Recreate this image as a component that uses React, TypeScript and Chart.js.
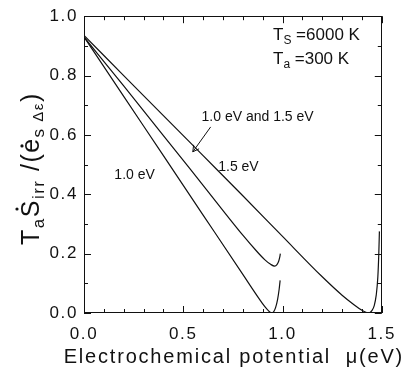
import React, { useEffect, useRef } from "react";
import { Chart, registerables } from "chart.js";

Chart.register(...registerables);

const FONT = '"Liberation Sans", Arial, Helvetica, sans-serif';
const INK = "#111111";

// Curve "1.0 eV"
const x10 = [0, 0.2, 0.4, 0.6, 0.8, 0.88, 0.91, 0.93, 0.945, 0.955, 0.965, 0.975, 0.983, 0.988];
const y10 = [0.93, 0.73, 0.53, 0.33, 0.13, 0.05, 0.022, 0.007, 0.0, 0.004, 0.018, 0.045, 0.08, 0.11];

// Curve "1.0 eV and 1.5 eV"
const xMid = [0, 0.2, 0.4, 0.6, 0.8, 0.87, 0.91, 0.94, 0.96, 0.972, 0.981, 0.986, 0.989];
const yMid = [0.93, 0.765, 0.598, 0.43, 0.262, 0.208, 0.18, 0.164, 0.158, 0.163, 0.175, 0.188, 0.2];

// Curve "1.5 eV"
const x15 = [0, 0.2, 0.4, 0.6, 0.8, 1.0, 1.2, 1.3, 1.36, 1.4, 1.42, 1.435, 1.45, 1.462, 1.472, 1.48, 1.485, 1.488];
const y15 = [0.935, 0.8, 0.665, 0.53, 0.395, 0.258, 0.122, 0.06, 0.028, 0.009, 0.002, 0.0, 0.008, 0.025, 0.06, 0.12, 0.2, 0.275];

const xMajorTicks = [0, 0.5, 1.0, 1.5];
const xMinorTicks = [0.1, 0.2, 0.3, 0.4, 0.6, 0.7, 0.8, 0.9, 1.1, 1.2, 1.3, 1.4];
const yMajorTicks = [0, 0.2, 0.4, 0.6, 0.8, 1.0];
const yMinorTicks = [0.1, 0.3, 0.5, 0.7, 0.9];

const xTitle = "Electrochemical potential  \u03BC(eV)";

const curveLabels = [
  { text: "1.0 eV and 1.5 eV", x: 0.592, y: 0.647 },
  { text: "1.5 eV", x: 0.676, y: 0.477 },
  { text: "1.0 eV", x: 0.153, y: 0.453 },
];
const arrowFrom = { x: 0.638, y: 0.627 };
const arrowTo = { x: 0.548, y: 0.543 };

const tempLabels = [
  { main: "T", sub: "S", rest: " =6000 K", x: 0.952, y: 0.92 },
  { main: "T", sub: "a", rest: " =300 K", x: 0.952, y: 0.84 },
];

const AXIS_SPACING = "1.6px";

function toPts(xs: number[], ys: number[]) {
  return xs.map((x, i) => ({ x, y: ys[i] }));
}

const spacingPlugin = {
  id: "spacing",
  beforeUpdate(chart: any) {
    (chart.ctx as any).letterSpacing = AXIS_SPACING;
  },
  beforeDraw(chart: any) {
    (chart.ctx as any).letterSpacing = AXIS_SPACING;
  },
};

const decorPlugin = {
  id: "decor",
  afterDraw(chart: any) {
    const ctx: CanvasRenderingContext2D = chart.ctx;
    const { left, right, top, bottom } = chart.chartArea;
    const xs = chart.scales.x;
    const ys = chart.scales.y;
    ctx.save();
    (ctx as any).letterSpacing = "0px";
    ctx.strokeStyle = INK;
    ctx.lineWidth = 1;
    // frame
    ctx.strokeRect(Math.round(left) + 0.5, Math.round(top) + 0.5, Math.round(right - left) - 1, Math.round(bottom - top) - 1);
    // inward ticks on all four sides
    const drawX = (v: number, len: number) => {
      const px = Math.round(xs.getPixelForValue(v)) + 0.5;
      ctx.beginPath();
      ctx.moveTo(px, bottom);
      ctx.lineTo(px, bottom - len);
      ctx.moveTo(px, top);
      ctx.lineTo(px, top + len);
      ctx.stroke();
    };
    const drawY = (v: number, len: number) => {
      const py = Math.round(ys.getPixelForValue(v)) + 0.5;
      ctx.beginPath();
      ctx.moveTo(left, py);
      ctx.lineTo(left + len, py);
      ctx.moveTo(right, py);
      ctx.lineTo(right - len, py);
      ctx.stroke();
    };
    xMajorTicks.forEach((v) => drawX(v, 7));
    xMinorTicks.forEach((v) => drawX(v, 4));
    yMajorTicks.forEach((v) => drawY(v, 7));
    yMinorTicks.forEach((v) => drawY(v, 4));

    // curve labels
    ctx.fillStyle = INK;
    ctx.textBaseline = "alphabetic";
    ctx.textAlign = "left";
    ctx.font = `14px ${FONT}`;
    curveLabels.forEach((l) => {
      ctx.fillText(l.text, xs.getPixelForValue(l.x), ys.getPixelForValue(l.y));
    });

    // arrow
    const ax0 = xs.getPixelForValue(arrowFrom.x), ay0 = ys.getPixelForValue(arrowFrom.y);
    const ax1 = xs.getPixelForValue(arrowTo.x), ay1 = ys.getPixelForValue(arrowTo.y);
    ctx.beginPath();
    ctx.moveTo(ax0, ay0);
    ctx.lineTo(ax1, ay1);
    const ang = Math.atan2(ay1 - ay0, ax1 - ax0);
    const hl = 7;
    ctx.moveTo(ax1, ay1);
    ctx.lineTo(ax1 - hl * Math.cos(ang - 0.5), ay1 - hl * Math.sin(ang - 0.5));
    ctx.moveTo(ax1, ay1);
    ctx.lineTo(ax1 - hl * Math.cos(ang + 0.5), ay1 - hl * Math.sin(ang + 0.5));
    ctx.stroke();

    // temperature labels
    tempLabels.forEach((t) => {
      let px = xs.getPixelForValue(t.x);
      const py = ys.getPixelForValue(t.y);
      ctx.font = `17px ${FONT}`;
      ctx.fillText(t.main, px, py);
      px += ctx.measureText(t.main).width;
      ctx.font = `12px ${FONT}`;
      ctx.fillText(t.sub, px, py + 4);
      px += ctx.measureText(t.sub).width;
      ctx.font = `17px ${FONT}`;
      ctx.fillText(t.rest, px, py);
    });

    // x-axis title
    (ctx as any).letterSpacing = "1.8px";
    ctx.font = `20px ${FONT}`;
    ctx.textAlign = "center";
    ctx.textBaseline = "middle";
    ctx.fillText(xTitle, (left + right) / 2 + 1, bottom + 44);
    ctx.textAlign = "left";
    ctx.textBaseline = "alphabetic";

    // y-axis title
    (ctx as any).letterSpacing = "1.5px";
    const pieces = [
      { t: "T", size: 25, off: 0, dot: 0 },
      { t: "a", size: 17, off: 5, dot: 0 },
      { t: "S", size: 25, off: 0, dot: 1 },
      { t: "irr", size: 17, off: 5, dot: 0 },
      { t: " /(", size: 25, off: 0, dot: 0 },
      { t: "e", size: 25, off: 0, dot: 2 },
      { t: "s", size: 17, off: 5, dot: 0 },
      { t: " \u0394\u03B5", size: 15, off: 4, dot: 0 },
      { t: ")", size: 25, off: 0, dot: 0 },
    ];
    let total = 0;
    pieces.forEach((p) => {
      ctx.font = `${p.size}px ${FONT}`;
      total += ctx.measureText(p.t).width;
    });
    const cy = (top + bottom) / 2 + 4;
    ctx.translate(39, cy + total / 2);
    ctx.rotate(-Math.PI / 2);
    let tx = 0;
    pieces.forEach((p) => {
      ctx.font = `${p.size}px ${FONT}`;
      const w = ctx.measureText(p.t).width;
      ctx.fillText(p.t, tx, p.off);
      if (p.dot) {
        const h = p.dot === 1 ? p.size * 0.72 + 4 : p.size * 0.52 + 4;
        ctx.beginPath();
        ctx.arc(tx + w / 2 - 0.8, -h, 1.6, 0, Math.PI * 2);
        ctx.fill();
      }
      tx += w;
    });
    ctx.restore();
  },
};

export default function App() {
  const ref = useRef<HTMLCanvasElement | null>(null);
  useEffect(() => {
    if (!ref.current) return;
    const line = (xs: number[], ys: number[]) => ({
      data: toPts(xs, ys),
      borderColor: INK,
      borderWidth: 1.2,
      pointRadius: 0,
      fill: false,
      cubicInterpolationMode: "monotone" as const,
    });
    const chart = new Chart(ref.current, {
      type: "line",
      data: {
        datasets: [line(x10, y10), line(xMid, yMid), line(x15, y15)],
      },
      options: {
        responsive: false,
        animation: false,
        devicePixelRatio: 1,
        layout: { padding: { top: 13, right: 19, left: 0, bottom: 0 } },
        plugins: { legend: { display: false }, tooltip: { enabled: false } },
        scales: {
          x: {
            type: "linear",
            min: 0,
            max: 1.5,
            grid: { display: false, drawTicks: false },
            border: { display: false },
            afterBuildTicks: (s: any) => {
              s.ticks = xMajorTicks.map((v) => ({ value: v }));
            },
            afterFit: (s: any) => {
              s.height = 69;
            },
            ticks: {
              color: INK,
              font: { family: FONT, size: 17 },
              padding: 11,
              maxRotation: 0,
              autoSkip: false,
              callback: (v: any) => Number(v).toFixed(1),
            },
            title: { display: false },
          },
          y: {
            type: "linear",
            min: 0,
            max: 1,
            grid: { display: false, drawTicks: false },
            border: { display: false },
            afterBuildTicks: (s: any) => {
              s.ticks = yMajorTicks.map((v) => ({ value: v }));
            },
            afterFit: (s: any) => {
              s.width = 84;
            },
            ticks: {
              color: INK,
              font: { family: FONT, size: 17 },
              padding: 6,
              autoSkip: false,
              callback: (v: any) => Number(v).toFixed(1),
            },
          },
        },
      },
      plugins: [spacingPlugin, decorPlugin],
    });
    return () => chart.destroy();
  }, []);
  return (
    <div style={{ position: "absolute", left: 0, top: 0, width: 407, height: 382, background: "#fff" }}>
      <canvas ref={ref} width={407} height={382} />
    </div>
  );
}
